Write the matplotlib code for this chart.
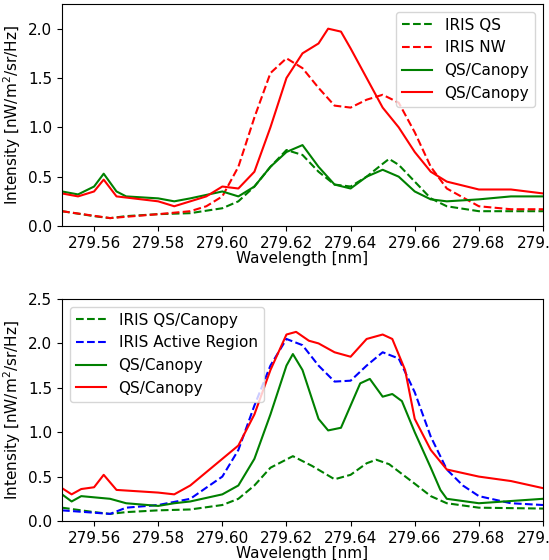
import matplotlib
matplotlib.use("Agg")
import matplotlib.pyplot as plt

plt.rcParams['font.size'] = 11

# top panel
x_iris_qs = [279.55, 279.56, 279.565, 279.57, 279.58, 279.59, 279.60, 279.605, 279.61, 279.615, 279.62, 279.625, 279.63, 279.635, 279.64, 279.645, 279.65, 279.652, 279.655, 279.66, 279.665, 279.67, 279.68, 279.70]
y_iris_qs = [0.15, 0.10, 0.08, 0.10, 0.12, 0.13, 0.18, 0.25, 0.40, 0.60, 0.77, 0.72, 0.55, 0.42, 0.40, 0.50, 0.63, 0.68, 0.62, 0.45, 0.28, 0.20, 0.15, 0.15]

x_iris_nw = [279.55, 279.565, 279.58, 279.59, 279.595, 279.60, 279.605, 279.61, 279.615, 279.62, 279.625, 279.63, 279.635, 279.64, 279.645, 279.65, 279.655, 279.66, 279.665, 279.67, 279.68, 279.69, 279.70]
y_iris_nw = [0.15, 0.08, 0.12, 0.15, 0.20, 0.30, 0.60, 1.10, 1.55, 1.70, 1.60, 1.40, 1.22, 1.20, 1.28, 1.33, 1.25, 0.95, 0.60, 0.38, 0.20, 0.17, 0.17]

x_top_g = [279.55, 279.555, 279.56, 279.563, 279.567, 279.57, 279.58, 279.585, 279.59, 279.60, 279.605, 279.61, 279.615, 279.62, 279.625, 279.63, 279.635, 279.64, 279.645, 279.65, 279.655, 279.66, 279.665, 279.67, 279.68, 279.69, 279.70]
y_top_g = [0.35, 0.32, 0.40, 0.53, 0.35, 0.30, 0.28, 0.25, 0.28, 0.35, 0.30, 0.40, 0.60, 0.75, 0.82, 0.60, 0.42, 0.38, 0.50, 0.57, 0.50, 0.35, 0.27, 0.25, 0.27, 0.30, 0.30]

x_top_r = [279.55, 279.555, 279.56, 279.563, 279.567, 279.58, 279.585, 279.59, 279.595, 279.60, 279.605, 279.61, 279.615, 279.62, 279.625, 279.63, 279.633, 279.637, 279.64, 279.645, 279.65, 279.655, 279.66, 279.665, 279.67, 279.68, 279.69, 279.70]
y_top_r = [0.33, 0.30, 0.35, 0.47, 0.30, 0.25, 0.20, 0.25, 0.30, 0.40, 0.38, 0.55, 1.00, 1.50, 1.75, 1.85, 2.00, 1.97, 1.80, 1.50, 1.20, 1.00, 0.75, 0.55, 0.45, 0.37, 0.37, 0.33]

# bottom panel
x_bot_gd = [279.55, 279.56, 279.565, 279.57, 279.58, 279.59, 279.60, 279.605, 279.61, 279.615, 279.622, 279.628, 279.635, 279.64, 279.645, 279.648, 279.652, 279.66, 279.665, 279.67, 279.68, 279.70]
y_bot_gd = [0.15, 0.10, 0.08, 0.10, 0.12, 0.13, 0.18, 0.25, 0.40, 0.60, 0.73, 0.62, 0.47, 0.52, 0.65, 0.69, 0.64, 0.42, 0.28, 0.20, 0.15, 0.14]

x_ar = [279.55, 279.565, 279.57, 279.58, 279.59, 279.60, 279.605, 279.61, 279.615, 279.62, 279.625, 279.63, 279.635, 279.64, 279.645, 279.65, 279.655, 279.66, 279.665, 279.67, 279.675, 279.68, 279.69, 279.70]
y_ar = [0.12, 0.08, 0.15, 0.18, 0.25, 0.50, 0.80, 1.30, 1.75, 2.05, 1.98, 1.75, 1.57, 1.58, 1.75, 1.90, 1.83, 1.45, 0.95, 0.58, 0.40, 0.28, 0.20, 0.18]

x_bot_g = [279.55, 279.553, 279.556, 279.565, 279.57, 279.58, 279.585, 279.59, 279.60, 279.605, 279.61, 279.615, 279.62, 279.622, 279.625, 279.63, 279.633, 279.637, 279.64, 279.643, 279.646, 279.65, 279.653, 279.656, 279.66, 279.665, 279.668, 279.67, 279.68, 279.70]
y_bot_g = [0.30, 0.22, 0.28, 0.25, 0.20, 0.17, 0.20, 0.22, 0.30, 0.40, 0.70, 1.20, 1.75, 1.88, 1.70, 1.15, 1.02, 1.05, 1.30, 1.55, 1.60, 1.40, 1.43, 1.35, 1.00, 0.60, 0.35, 0.25, 0.20, 0.25]

x_bot_r = [279.55, 279.553, 279.556, 279.56, 279.563, 279.567, 279.58, 279.585, 279.59, 279.60, 279.605, 279.61, 279.615, 279.62, 279.623, 279.627, 279.63, 279.635, 279.64, 279.645, 279.65, 279.653, 279.657, 279.66, 279.665, 279.67, 279.68, 279.69, 279.70]
y_bot_r = [0.37, 0.30, 0.36, 0.38, 0.52, 0.35, 0.32, 0.30, 0.40, 0.70, 0.85, 1.20, 1.70, 2.10, 2.13, 2.03, 2.00, 1.90, 1.85, 2.05, 2.10, 2.05, 1.70, 1.15, 0.80, 0.58, 0.50, 0.45, 0.37]

xticks = [279.56, 279.58, 279.60, 279.62, 279.64, 279.66, 279.68, 279.70]
xticklabels = ['279.56', '279.58', '279.60', '279.62', '279.64', '279.66', '279.68', '279.70']

fig = plt.figure(figsize=(5.49, 5.6), dpi=100)
ax1 = fig.add_axes([62/549, 334/560, 481/549, 222/560])
ax2 = fig.add_axes([62/549, 39/560, 481/549, 222/560])

ax1.plot(x_iris_qs, y_iris_qs, 'g--', label='IRIS QS')
ax1.plot(x_iris_nw, y_iris_nw, 'r--', label='IRIS NW')
ax1.plot(x_top_g, y_top_g, 'g-', label='QS/Canopy')
ax1.plot(x_top_r, y_top_r, 'r-', label='QS/Canopy')
ax1.set_xlim(279.55, 279.70)
ax1.set_ylim(0, 2.25)
ax1.set_yticks([0.0, 0.5, 1.0, 1.5, 2.0])

ax2.plot(x_bot_gd, y_bot_gd, 'g--', label='IRIS QS/Canopy')
ax2.plot(x_ar, y_ar, 'b--', label='IRIS Active Region')
ax2.plot(x_bot_g, y_bot_g, 'g-', label='QS/Canopy')
ax2.plot(x_bot_r, y_bot_r, 'r-', label='QS/Canopy')
ax2.set_xlim(279.55, 279.70)
ax2.set_ylim(0, 2.5)

for ax in (ax1, ax2):
    ax.set_xticks(xticks)
    ax.set_xticklabels(xticklabels)
    ax.set_xlabel('Wavelength [nm]', labelpad=0)
    ax.set_ylabel('Intensity [nW/m$^2$/sr/Hz]')
ax1.legend(loc='upper right')
ax2.legend(loc='upper left')

plt.savefig('out.png')
